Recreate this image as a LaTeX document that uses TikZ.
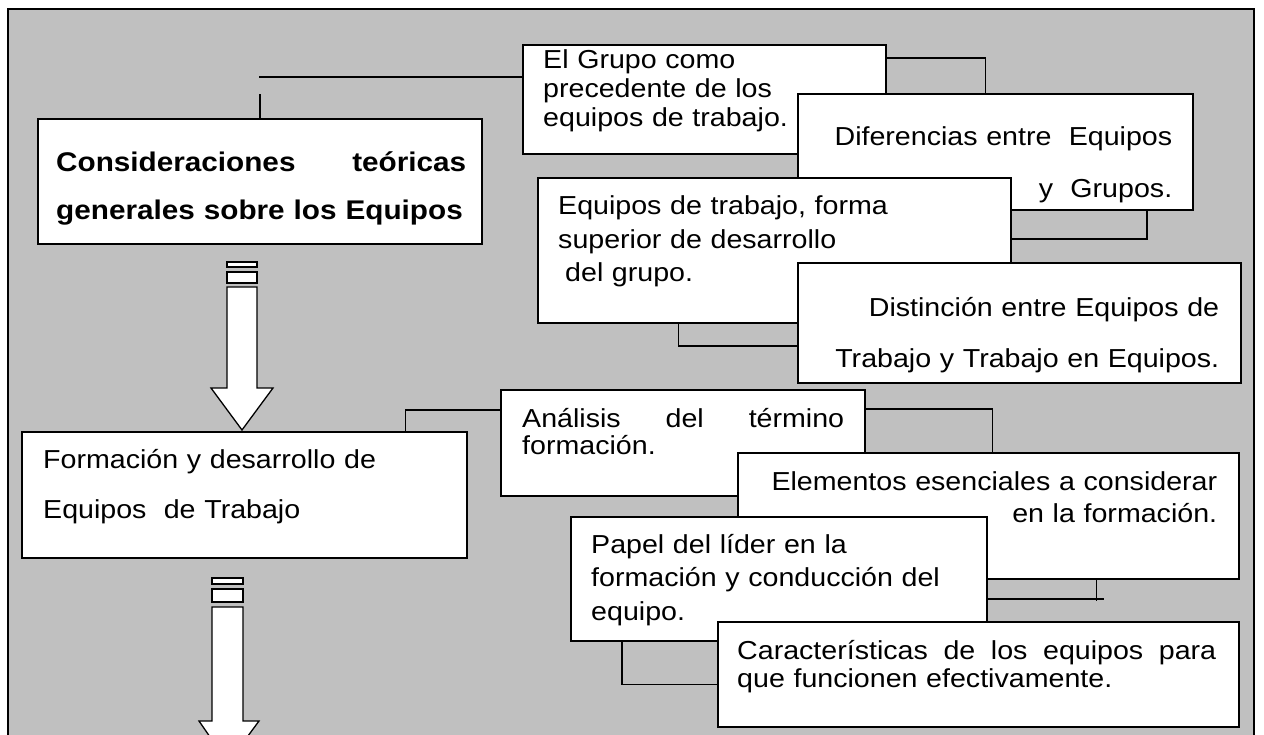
\documentclass[tikz,border=0pt]{standalone}
\usepackage{fontspec}
\setmainfont{Liberation Sans}[FakeStretch=1.1]
\usetikzlibrary{calc}
\definecolor{fondo}{RGB}{192,192,192}

\begin{document}
\begin{tikzpicture}[x=1pt, y=-1pt,
    caja/.style={draw, line width=1.8pt, fill=white, anchor=north west, inner sep=0pt},
    texto/.style={anchor=base west, inner sep=0pt, font=\fontsize{26}{#1}\selectfont},
    linea/.style={line width=1.5pt},
    bloque/.style={draw, fill=white, line width=1.3pt, line join=miter}]
  \useasboundingbox (0,0) rectangle (1264,735);
  \clip (0,0) rectangle (1264,735);
  \filldraw[fill=fondo, line width=1.8pt] (8,9) rectangle (1254,760);

  % primer bloque
  \node[caja, minimum width=444pt, minimum height=125pt] (cons) at (37,118) {};
  \node[texto=48, font=\fontsize{27}{48}\selectfont\bfseries, text width=410pt, align=left] (cons-t) at ($(cons.north west)+(19,54)$) {Consideraciones\hfill teóricas\hspace*{6pt}\\generales sobre los Equipos};

  \node[caja, minimum width=363pt, minimum height=109pt] (grupo) at (522,44) {};
  \node[texto=29, text width=320pt, align=left] (grupo-t) at ($(grupo.north west)+(21,25)$) {El Grupo como\\precedente de los\\equipos de trabajo.};
  \node[caja, minimum width=395pt, minimum height=116pt] (difer) at (797,93) {};
  \node[texto=52, text width=355pt, align=right] (difer-t) at ($(difer.north west)+(20,53)$) {Diferencias entre\ \ Equipos\\y\ \ Grupos.};
  \node[caja, minimum width=473pt, minimum height=145pt] (equip) at (537,177) {};
  \node[texto=33.5, text width=431pt, align=left] (equip-t) at ($(equip.north west)+(21,38)$) {Equipos de trabajo, forma\\superior de desarrollo\\\hspace*{7pt}del grupo.};
  \node[caja, minimum width=443pt, minimum height=120pt] (disti) at (797,262) {};
  \node[texto=51, text width=401pt, align=right] (disti-t) at ($(disti.north west)+(21,55)$) {Distinción entre Equipos de\\Trabajo y Trabajo en Equipos.};

  \draw[linea] (cons.north) -- ++(0,-24);
  \coordinate (cruce) at (259,77);
  \draw[linea] (cruce) -- (cruce -| grupo.west);
  \draw[linea] ([yshift=-14pt]grupo.north east) -| ([xshift=-10pt]difer.north);
  \draw[linea] ([yshift=-62pt]equip.north east) -| ([xshift=-47pt]difer.south east);
  \draw[linea] ([xshift=-96pt]equip.south) |- ([yshift=-23pt]disti.west);

  % segundo bloque
  \node[caja, minimum width=445pt, minimum height=126pt] (forma) at (21,431) {};
  \node[texto=50, text width=401pt, align=left] (forma-t) at ($(forma.north west)+(22,37)$) {Formación y desarrollo de\\Equipos\ \ de Trabajo};

  \node[caja, minimum width=364pt, minimum height=106pt] (anali) at (500,389) {};
  \node[texto=27.5, text width=322pt, align=left] (anali-t) at ($(anali.north west)+(22,38)$) {Análisis\hfill del\hfill término\\formación.};
  \node[caja, minimum width=501pt, minimum height=126pt] (eleme) at (737,452) {};
  \node[texto=32, text width=459pt, align=right] (eleme-t) at ($(eleme.north west)+(21,38)$) {Elementos esenciales a considerar\\en la formación.};
  \node[caja, minimum width=416pt, minimum height=124pt] (papel) at (570,516) {};
  \node[texto=33.5, text width=374pt, align=left] (papel-t) at ($(papel.north west)+(21,37)$) {Papel del líder en la\\formación y conducción del\\equipo.};
  \node[caja, minimum width=521pt, minimum height=105pt] (carac) at (717,621) {};
  \node[texto=28.5, text width=479pt, align=left] (carac-t) at ($(carac.north west)+(20,38)$) {Características\hfill de\hfill los\hfill equipos\hfill para\\que funcionen efectivamente.};

  \draw[linea] ([xshift=161pt]forma.north) |- ([yshift=-21pt]anali.north west);
  \draw[linea] ([yshift=-20pt]anali.north east) -| ([xshift=4pt]eleme.north);
  \draw[linea] ([yshift=-83pt]papel.north east) -- ++(116,0);
  \draw[linea] ([xshift=108pt]eleme.south) -- ++(0,21);
  \draw[linea] ([xshift=-157pt]papel.south) |- ([yshift=-10pt]carac.west);

  % flechas
  \draw[bloque] (227,262) rectangle (257,267);
  \draw[bloque] (227,272) rectangle (257,283);
  \draw[bloque] (227,287) -- (257,287) -- (257,388) -- (273,388) -- (242,430) -- (211,388) -- (227,388) -- cycle;
  \draw[bloque] (212,578) rectangle (243,584);
  \draw[bloque] (212,589) rectangle (243,602);
  \draw[bloque] (212,607) -- (243,607) -- (243,721) -- (259,721) -- (228,763) -- (199,721) -- (212,721) -- cycle;
\end{tikzpicture}
\end{document}
